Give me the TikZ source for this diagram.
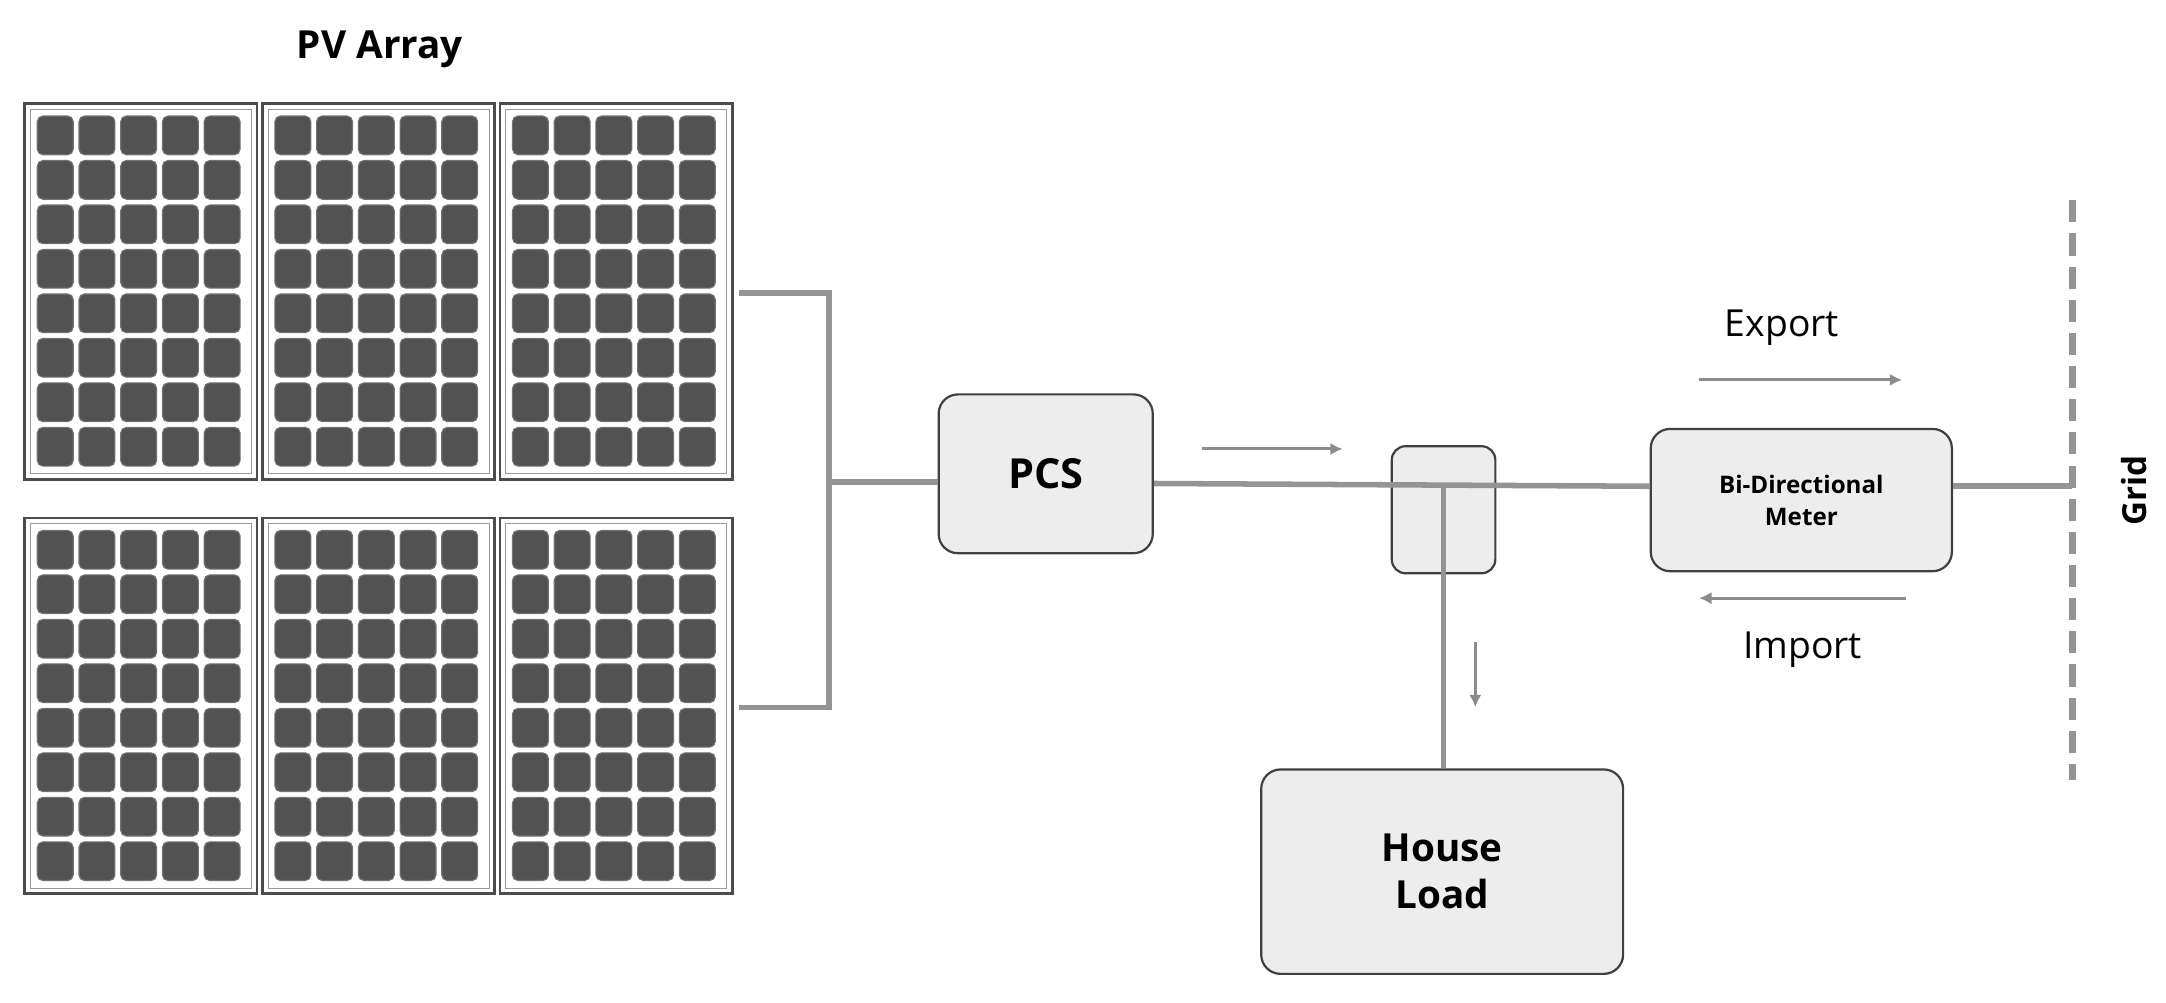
\documentclass[tikz,border=0pt]{standalone}
\usepackage{fontspec}
\setmainfont{Open Sans}
\usetikzlibrary{arrows.meta}
\begin{document}
\begin{tikzpicture}[x=1pt,y=-1pt,
  wire/.style={draw=black!42,line width=4pt},
  box/.style={draw=black!75,line width=1.6pt,fill=black!7,rounded corners=14pt},
  flow/.style={draw=black!45,line width=2.2pt,-{Latex[length=9pt,width=9pt]}},
  cell/.style={fill=black!68,draw=black!55,line width=0.8pt,rounded corners=4pt},
  frame/.style={draw=black!70,line width=2pt,fill=white}]
\useasboundingbox (0,0) rectangle (1568,726);
\node[font=\bfseries\fontsize{28}{30}\selectfont] (pv) at (275,36) {PV Array};
\foreach \px in {18,190,362}{
 \foreach \py in {75,375}{
  \draw[frame] (\px,\py) rectangle ++(168,272);
  \draw[black!40,line width=0.6pt] (\px+4,\py+4) rectangle ++(160,264);
  \foreach \i in {0,...,4}{
   \foreach \j in {0,...,7}{
    \draw[cell] (\px+9+\i*30.2,\py+9+\j*32.2) rectangle ++(26,28);
   }}
 }}
\coordinate (t1) at (535,212);
\coordinate (t2) at (535,512);
\coordinate (j) at (600,349);
\node[box,minimum width=155pt,minimum height=115pt,font=\bfseries\fontsize{30}{32}\selectfont] (pcs) at (757,343) {PCS};
\node[box,rounded corners=10pt,minimum width=75pt,minimum height=92pt] (sw) at (1045,369) {};
\node[box,minimum width=262pt,minimum height=148pt,align=center,font=\bfseries\fontsize{28}{34}\selectfont] (load) at (1044,631) {House\\Load};
\node[box,minimum width=218pt,minimum height=103pt,align=center,font=\bfseries\fontsize{17.5}{23}\selectfont] (meter) at (1304,362) {Bi-Directional\\Meter};
\coordinate (g) at (1500,352);
\draw[wire] (t1) -- (600,212) -- (600,512) -- (t2);
\draw[wire] (j) -- (pcs.west |- j);
\draw[wire] (pcs.east |- 0,350) -- (meter.west |- 0,352);
\draw[wire] (1045,352) -- (load.north -| 1045,0);
\draw[wire] (meter.east |- 0,352) -- (g);
\draw[black!42,line width=5pt,dash pattern=on 16pt off 8pt] (1500,145) -- (1500,565);
\node[rotate=90,font=\bfseries\fontsize{24}{26}\selectfont] (grid) at (1545,355) {Grid};
\draw[flow] (870,325) -- (972,325);
\draw[flow] (1068,465) -- (1068,512);
\node[font=\fontsize{27}{30}\selectfont] (exp) at (1290,237) {Export};
\draw[flow] (1230,275) -- (1377,275);
\node[font=\fontsize{27}{30}\selectfont] (imp) at (1305,470) {Import};
\draw[flow] (1380,433) -- (1230,433);
\end{tikzpicture}
\end{document}
